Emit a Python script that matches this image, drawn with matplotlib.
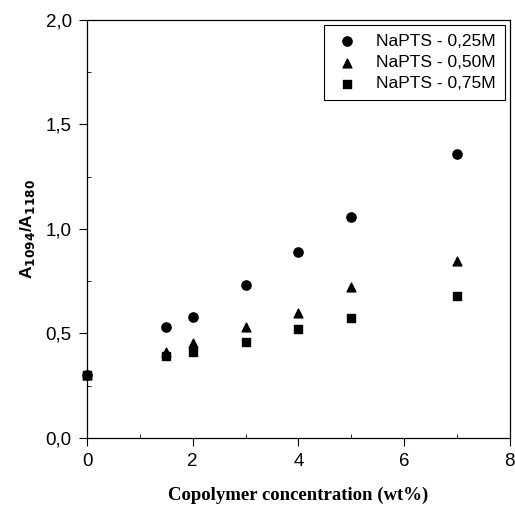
import numpy as np
import matplotlib.pyplot as plt
from matplotlib.ticker import MultipleLocator, FuncFormatter

# data
conc = [0, 1.5, 2, 3, 4, 5, 7]
napts_025 = [0.30, 0.53, 0.58, 0.73, 0.89, 1.055, 1.36]
napts_050 = [0.30, 0.41, 0.455, 0.53, 0.60, 0.72, 0.845]
napts_075 = [0.30, 0.39, 0.41, 0.46, 0.52, 0.575, 0.68]

plt.rcParams['font.family'] = ['Liberation Sans', 'DejaVu Sans']

fig = plt.figure(figsize=(5.15, 5.11), dpi=100)
ax = fig.add_axes([0.169, 0.143, 0.821, 0.818])

ax.scatter(conc, napts_025, marker='o', s=44, color='black', label='NaPTS - 0,25M', zorder=3, clip_on=False)
ax.scatter(conc, napts_050, marker='^', s=40, color='black', label='NaPTS - 0,50M', zorder=3, clip_on=False)
ax.scatter(conc, napts_075, marker='s', s=32, color='black', label='NaPTS - 0,75M', zorder=3, clip_on=False)

ax.set_xlim(0, 8)
ax.set_ylim(0, 2.0)
ax.xaxis.set_major_locator(MultipleLocator(2))
ax.xaxis.set_minor_locator(MultipleLocator(1))
ax.yaxis.set_major_locator(MultipleLocator(0.5))
ax.yaxis.set_minor_locator(MultipleLocator(0.25))
ax.yaxis.set_major_formatter(FuncFormatter(lambda v, p: f'{v:.1f}'.replace('.', ',')))
ax.tick_params(which='major', direction='out', length=6, width=0.8, labelsize=13.5, pad=5)
ax.tick_params(which='minor', direction='in', length=3, width=0.6)
for sp in ax.spines.values():
    sp.set_linewidth(0.9)

ax.set_xlabel('Copolymer concentration (wt%)', family='Liberation Serif',
              fontweight='bold', fontsize=13.5, labelpad=12)
ax.set_ylabel('A$_{\\mathbf{1094}}$/A$_{\\mathbf{1180}}$', fontweight='bold', fontsize=12.5, labelpad=6)

leg = ax.legend(loc='upper right', fontsize=12.5, fancybox=False, framealpha=1,
                edgecolor='black', borderaxespad=0.3, handletextpad=0.9,
                labelspacing=0.35, borderpad=0.5, handlelength=1.6)
leg.get_frame().set_linewidth(0.8)

plt.savefig('out.png', dpi=100)
